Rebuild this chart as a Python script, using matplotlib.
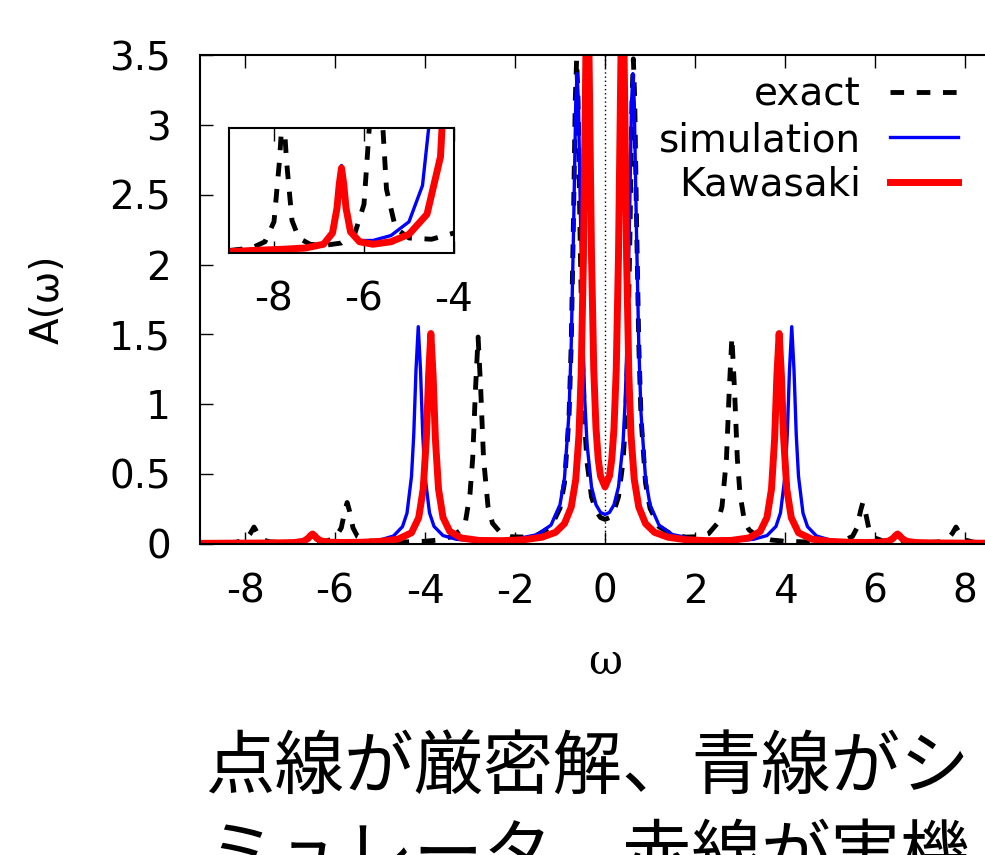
import matplotlib
matplotlib.use('Agg')
import matplotlib.pyplot as plt
import numpy as np

plt.rcParams['font.family'] = ['DejaVu Sans']

# spectra, omega >= 0 half (curves are symmetric)
omega_exact = [0, 0.1, 0.2, 0.3, 0.4, 0.45, 0.5, 0.55, 0.6, 0.63, 0.66, 0.7, 0.75, 0.8, 0.9,
               1.0, 1.2, 1.5, 1.8, 2.1, 2.3, 2.5, 2.6, 2.7, 2.76, 2.82, 2.88, 2.94, 3.0, 3.1,
               3.2, 3.4, 3.7, 4.0, 4.5, 5.0, 5.3, 5.5, 5.6, 5.68, 5.73, 5.78, 5.86, 6.0, 6.2,
               6.5, 6.9, 7.2, 7.45, 7.6, 7.72, 7.8, 7.88, 8.0, 8.2, 8.5, 9.0]
A_exact = [0.173, 0.186, 0.234, 0.334, 0.585, 0.847, 1.313, 2.132, 3.192, 3.476, 3.190, 2.339,
           1.437, 0.908, 0.436, 0.253, 0.120, 0.062, 0.046, 0.049, 0.070, 0.145, 0.265, 0.614,
           1.092, 1.481, 1.091, 0.612, 0.356, 0.158, 0.098, 0.050, 0.025, 0.016, 0.011, 0.012,
           0.020, 0.051, 0.112, 0.236, 0.294, 0.236, 0.112, 0.039, 0.016, 0.008, 0.006, 0.007,
           0.012, 0.026, 0.073, 0.118, 0.073, 0.025, 0.009, 0.004, 0.002]

omega_sim = [0, 0.1, 0.2, 0.3, 0.4, 0.45, 0.5, 0.55, 0.59, 0.62, 0.65, 0.7, 0.75, 0.8, 0.9,
             1.0, 1.2, 1.5, 2.0, 2.5, 3.0, 3.3, 3.6, 3.8, 3.9, 4.0, 4.05, 4.1, 4.15, 4.2,
             4.25, 4.3, 4.4, 4.5, 4.7, 5.0, 5.4, 5.8, 6.1, 6.3, 6.4, 6.45, 6.5, 6.55, 6.6,
             6.7, 6.9, 7.3, 7.8, 8.5, 9.0]
A_sim = [0.208, 0.223, 0.278, 0.406, 0.715, 1.032, 1.573, 2.430, 3.166, 3.370, 3.164, 2.229,
         1.430, 0.938, 0.470, 0.278, 0.132, 0.064, 0.031, 0.022, 0.022, 0.030, 0.057, 0.123,
         0.220, 0.483, 0.781, 1.246, 1.555, 1.245, 0.780, 0.482, 0.218, 0.121, 0.054, 0.025,
         0.014, 0.010, 0.010, 0.019, 0.038, 0.057, 0.070, 0.057, 0.037, 0.017, 0.008, 0.004,
         0.003, 0.002, 0.002]

omega_kaw = [0, 0.1, 0.15, 0.2, 0.25, 0.3, 0.34, 0.37, 0.39, 0.41, 0.44, 0.48, 0.53, 0.58, 0.65,
             0.75, 0.9, 1.1, 1.4, 1.8, 2.3, 2.8, 3.2, 3.45, 3.6, 3.7, 3.77, 3.82, 3.87, 3.92,
             3.97, 4.04, 4.14, 4.3, 4.6, 5.0, 5.4, 5.8, 6.1, 6.3, 6.4, 6.45, 6.5, 6.55, 6.6,
             6.7, 6.9, 7.3, 7.8, 8.5, 9.0]
A_kaw = [0.406, 0.484, 0.603, 0.826, 1.249, 2.069, 3.119, 3.869, 4.055, 3.864, 3.105, 2.044,
         1.210, 0.769, 0.460, 0.262, 0.143, 0.080, 0.045, 0.027, 0.020, 0.022, 0.040, 0.087,
         0.187, 0.391, 0.755, 1.205, 1.506, 1.205, 0.755, 0.391, 0.185, 0.077, 0.031, 0.015,
         0.009, 0.007, 0.009, 0.017, 0.036, 0.055, 0.068, 0.055, 0.036, 0.016, 0.007, 0.004,
         0.003, 0.002, 0.001]

labels = ['exact', 'simulation', 'Kawasaki']
xticks = [-8, -6, -4, -2, 0, 2, 4, 6, 8]
yticks = [0, 0.5, 1, 1.5, 2, 2.5, 3, 3.5]
yticklabels = ['0', '0.5', '1', '1.5', '2', '2.5', '3', '3.5']
inset_xticks = [-8, -6, -4]
caption1 = '点線が厳密解、青線がシ'
caption2 = 'ミュレータ、赤線が実機'


def mirror(x, y):
    x = np.asarray(x)
    y = np.asarray(y)
    return np.concatenate([-x[:0:-1], x]), np.concatenate([y[:0:-1], y])


W, H = 985, 855


def box(x0, y0, x1, y1):
    return [x0 / W, 1 - y1 / H, (x1 - x0) / W, (y1 - y0) / H]


styles = [dict(color='black', lw=3.5, ls=(0, (2.8, 2.6))),
          dict(color='#0000ff', lw=2.4),
          dict(color='#ff0000', lw=5)]
curves = [mirror(omega_exact, A_exact), mirror(omega_sim, A_sim), mirror(omega_kaw, A_kaw)]

FS = 28

fig = plt.figure(figsize=(9.85, 8.55), dpi=100)
ax = fig.add_axes(box(200, 55.5, 1010, 543.5))

ax.axvline(0, color='black', lw=1, ls=(0, (1, 2)), zorder=1)
for (x, y), st, lab in zip(curves, styles, labels):
    ax.plot(x, y, label=lab, **st)

ax.set_xlim(-9, 9)
ax.set_ylim(0, 3.5)
ax.set_xticks(xticks)
ax.set_xticklabels([str(t) for t in xticks])
ax.set_yticks(yticks)
ax.set_yticklabels(yticklabels)
ax.tick_params(direction='in', top=True, right=True, length=9, width=1,
               labelsize=FS, pad=21)
for s in ax.spines.values():
    s.set_linewidth(1.5)

ax.set_ylabel('A(ω)', fontsize=FS)
ax.yaxis.set_label_coords(-0.165, 0.5)
ax.set_xlabel('ω', fontsize=FS + 2, family=['DejaVu Serif'])
ax.xaxis.set_label_coords(0.5, -0.2)

leg = ax.legend(loc='upper right', bbox_to_anchor=(958 / W, 1 - 76 / H),
                bbox_transform=fig.transFigure, frameon=False, markerfirst=False,
                fontsize=FS, borderpad=0, borderaxespad=0, handlelength=1.75,
                handletextpad=0.75, labelspacing=0.18)

# inset
axi = fig.add_axes(box(229, 128, 454, 253))
for (x, y), st in zip(curves, styles):
    axi.plot(x, y, **st)
axi.set_xlim(-9, -4)
axi.set_ylim(0, 0.1)
axi.set_xticks(inset_xticks)
axi.set_xticklabels([str(t) for t in inset_xticks])
axi.set_yticks([])
axi.tick_params(direction='in', top=True, length=9, width=1, labelsize=FS, pad=20)
for s in axi.spines.values():
    s.set_linewidth(1.5)

jp = ['Noto Sans CJK JP', 'DejaVu Sans']
fig.text(205 / W, 1 - 769 / H, caption1, fontsize=50, family=jp, va='center', ha='left')
fig.text(205 / W, 1 - 858 / H, caption2, fontsize=50, family=jp, va='center', ha='left')

fig.savefig('out.png', dpi=100)
